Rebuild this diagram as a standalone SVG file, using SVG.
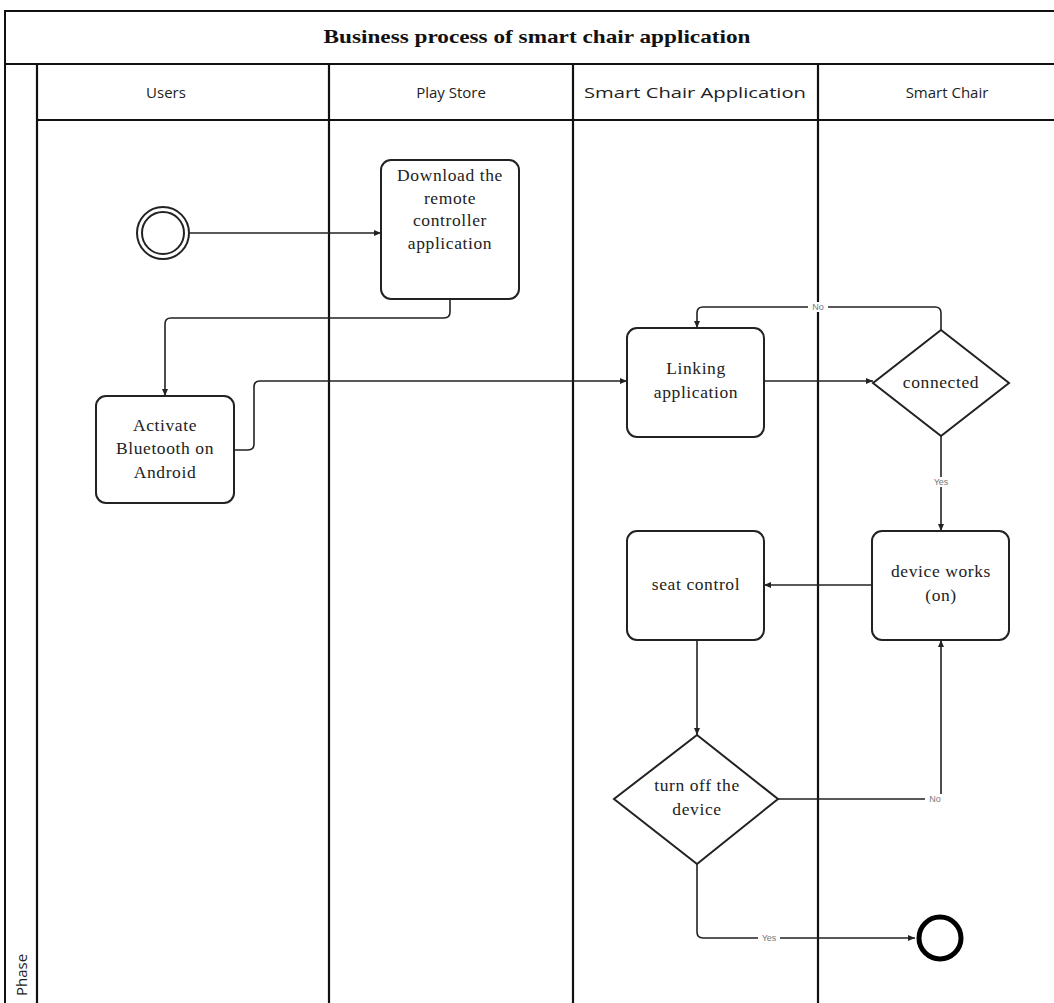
<svg xmlns="http://www.w3.org/2000/svg" width="1054" height="1003" viewBox="0 0 1054 1003">
<style>
.frame{fill:none;stroke:#111;stroke-width:2}
.lane{stroke:#111;stroke-width:2.2}
.box{fill:#fff;stroke:#222;stroke-width:2}
.conn{fill:none;stroke:#222;stroke-width:1.6}
.t{font-family:"Liberation Serif",serif;font-size:17.5px;fill:#222;text-anchor:middle;letter-spacing:0.6px}
.h{font-family:"Open Sans","Liberation Sans",sans-serif;font-size:15px;fill:#222;text-anchor:middle}
.lbl{font-family:"Liberation Sans",sans-serif;font-size:9px;fill:#777;text-anchor:middle}
</style>
<defs>
<marker id="arr" markerWidth="8" markerHeight="8" refX="7" refY="4" orient="auto" markerUnits="userSpaceOnUse">
<path d="M0,1 L7,4 L0,7 Z" fill="#222"/>
</marker>
</defs>
<rect width="1054" height="1003" fill="#fff"/>
<g id="pool">
<path class="frame" d="M1056,11 H5 V1005"/>
<line class="lane" x1="5" y1="64" x2="1054" y2="64"/>
<line class="lane" x1="37" y1="120" x2="1054" y2="120"/>
<line class="lane" x1="37" y1="64" x2="37" y2="1003"/>
<line class="lane" x1="329" y1="64" x2="329" y2="1003"/>
<line class="lane" x1="573" y1="64" x2="573" y2="1003"/>
<line class="lane" x1="818" y1="64" x2="818" y2="1003"/>
<text x="537" y="43" font-family="Liberation Serif,serif" font-size="19" font-weight="bold" fill="#111" text-anchor="middle" textLength="427" lengthAdjust="spacingAndGlyphs">Business process of smart chair application</text>
<text class="h" x="166" y="98">Users</text>
<text class="h" x="451" y="98">Play Store</text>
<text class="h" x="695" y="98" textLength="222" lengthAdjust="spacingAndGlyphs">Smart Chair Application</text>
<text class="h" x="947" y="98">Smart Chair</text>
<text class="h" x="27" y="975" transform="rotate(-90 27 975)" text-anchor="middle" font-size="14">Phase</text>
</g>
<g id="connectors">
<line class="conn" x1="190" y1="233" x2="381" y2="233" marker-end="url(#arr)"/>
<path class="conn" d="M450,299 V312 Q450,318 444,318 H171 Q165,318 165,324 V396" marker-end="url(#arr)"/>
<path class="conn" d="M234,450 H248 Q254,450 254,444 V387 Q254,381 260,381 H627" marker-end="url(#arr)"/>
<line class="conn" x1="764" y1="381" x2="873" y2="381" marker-end="url(#arr)"/>
<path class="conn" d="M941,330 V313 Q941,307 935,307 H703 Q697,307 697,313 V328" marker-end="url(#arr)"/>
<line class="conn" x1="941" y1="436" x2="941" y2="531" marker-end="url(#arr)"/>
<line class="conn" x1="872" y1="585" x2="764" y2="585" marker-end="url(#arr)"/>
<line class="conn" x1="697" y1="640" x2="697" y2="735" marker-end="url(#arr)"/>
<path class="conn" d="M778,799 H941 V640" marker-end="url(#arr)"/>
<path class="conn" d="M697,864 V932 Q697,938 703,938 H915" marker-end="url(#arr)"/>
<rect x="808" y="302" width="20" height="10" fill="#fff"/>
<text class="lbl" x="818" y="310">No</text>
<rect x="931" y="477" width="20" height="10" fill="#fff"/>
<text class="lbl" x="941" y="485">Yes</text>
<rect x="925" y="794" width="20" height="10" fill="#fff"/>
<text class="lbl" x="935" y="802">No</text>
<rect x="758" y="933" width="22" height="10" fill="#fff"/>
<text class="lbl" x="769" y="941">Yes</text>
</g>
<g id="start">
<circle cx="163" cy="233" r="26" fill="#fff" stroke="#222" stroke-width="2"/>
<circle cx="163" cy="233" r="21" fill="none" stroke="#222" stroke-width="2"/>
</g>
<g id="download">
<rect class="box" x="381" y="160" width="138" height="139" rx="10"/>
<text class="t" x="450" y="181">Download the</text>
<text class="t" x="450" y="204">remote</text>
<text class="t" x="450" y="226">controller</text>
<text class="t" x="450" y="249">application</text>
</g>
<g id="activate">
<rect class="box" x="96" y="396" width="138" height="107" rx="10"/>
<text class="t" x="165" y="431">Activate</text>
<text class="t" x="165" y="454">Bluetooth on</text>
<text class="t" x="165" y="478">Android</text>
</g>
<g id="linking">
<rect class="box" x="627" y="328" width="137" height="109" rx="10"/>
<text class="t" x="696" y="374">Linking</text>
<text class="t" x="696" y="398">application</text>
</g>
<g id="connected">
<polygon class="box" points="941,330 1009,383 941,436 873,383"/>
<text class="t" x="941" y="388" font-size="16.5">connected</text>
</g>
<g id="deviceworks">
<rect class="box" x="872" y="531" width="137" height="109" rx="10"/>
<text class="t" x="941" y="577">device works</text>
<text class="t" x="941" y="601">(on)</text>
</g>
<g id="seatcontrol">
<rect class="box" x="627" y="531" width="137" height="109" rx="10"/>
<text class="t" x="696" y="590">seat control</text>
</g>
<g id="turnoff">
<polygon class="box" points="697,735 778,799 697,864 614,799"/>
<text class="t" x="697" y="791">turn off the</text>
<text class="t" x="697" y="815">device</text>
</g>
<g id="end">
<circle cx="940" cy="938" r="21" fill="#fff" stroke="#000" stroke-width="5"/>
</g>
</svg>
